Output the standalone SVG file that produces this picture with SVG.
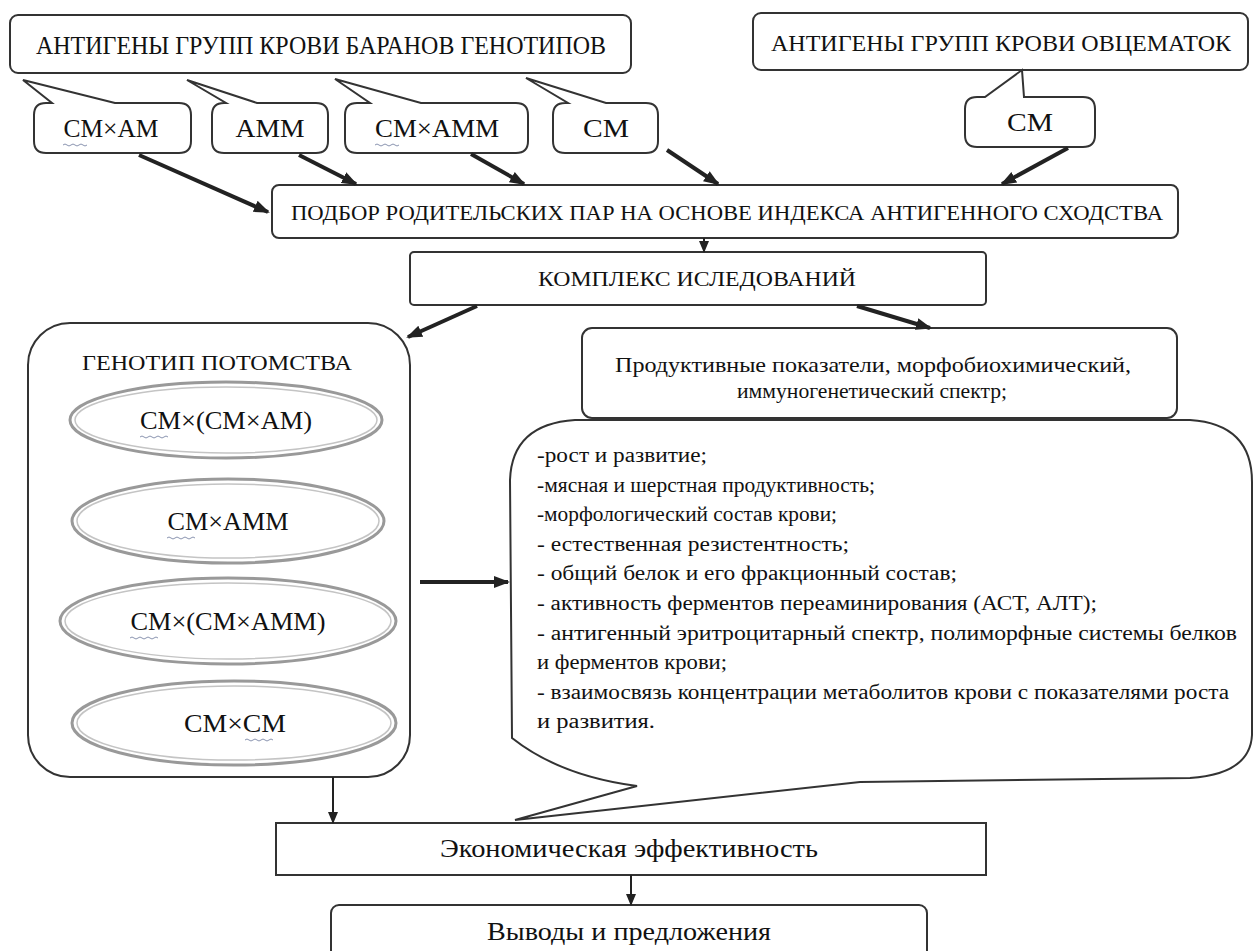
<svg xmlns="http://www.w3.org/2000/svg" width="1254" height="951" viewBox="0 0 1254 951">
<defs>
<style>
.box{fill:#fff;stroke:#333;stroke-width:2}
.ell{fill:#fff;stroke:#999;stroke-width:3}
.ell2{fill:none;stroke:#c4c4c4;stroke-width:1.5}
.wv{fill:none;stroke:#8a94b0;stroke-width:1}
.c{text-anchor:middle}
.thick{stroke:#222;stroke-width:4;fill:none}
.thin{stroke:#222;stroke-width:2;fill:none}
</style>
<marker id="ah" markerUnits="userSpaceOnUse" markerWidth="16" markerHeight="14" refX="14" refY="7" orient="auto">
<path d="M0,1 L16,7 L0,13 Z" fill="#222"/>
</marker>
<marker id="ahs" markerUnits="userSpaceOnUse" markerWidth="12" markerHeight="12" refX="11" refY="6" orient="auto">
<path d="M0,1 L12,6 L0,11 Z" fill="#222"/>
</marker>
</defs>

<g font-family="'Liberation Serif', 'Times New Roman', serif" fill="#111">
<g id="rams">
<rect class="box" x="10" y="15" width="621" height="58" rx="8"/>
<text class="c" x="321" y="54" font-size="26" textLength="570" lengthAdjust="spacingAndGlyphs">АНТИГЕНЫ ГРУПП КРОВИ БАРАНОВ ГЕНОТИПОВ</text>
</g>
<g id="ewes">
<rect class="box" x="753" y="13" width="495" height="57" rx="8"/>
<text class="c" x="1001" y="51" font-size="24" textLength="460" lengthAdjust="spacingAndGlyphs">АНТИГЕНЫ ГРУПП КРОВИ ОВЦЕМАТОК</text>
</g>

<g id="c1">
<path class="box" d="M46,103 L52,103 L23,80 L115,103 L179,103 Q191,103 191,115 L191,141 Q191,153 179,153 L46,153 Q34,153 34,141 L34,115 Q34,103 46,103 Z"/>
<text class="c" x="111" y="137" font-size="26" textLength="95" lengthAdjust="spacingAndGlyphs">СМ×АМ</text>
<path class="wv" d="M63,145 q2,-2 4,0 t4,0 t4,0 t4,0 t4,0 t4,0"/>
</g>
<g id="c2">
<path class="box" d="M224,103 L226,103 L187,80 L257,103 L316,103 Q328,103 328,115 L328,141 Q328,153 316,153 L224,153 Q212,153 212,141 L212,115 Q212,103 224,103 Z"/>
<text class="c" x="270" y="137" font-size="26" textLength="69" lengthAdjust="spacingAndGlyphs">АММ</text>
</g>
<g id="c3">
<path class="box" d="M357,103 L370,103 L335,79 L421,103 L516,103 Q528,103 528,115 L528,141 Q528,153 516,153 L357,153 Q345,153 345,141 L345,115 Q345,103 357,103 Z"/>
<text class="c" x="437" y="137" font-size="26" textLength="124" lengthAdjust="spacingAndGlyphs">СМ×АММ</text>
<path class="wv" d="M375,145 q2,-2 4,0 t4,0 t4,0 t4,0 t4,0 t4,0"/>
</g>
<g id="c4">
<path class="box" d="M565,103 L568,103 L526,78 L606,103 L646,103 Q658,103 658,115 L658,141 Q658,153 646,153 L565,153 Q553,153 553,141 L553,115 Q553,103 565,103 Z"/>
<text class="c" x="606" y="137" font-size="26" textLength="46" lengthAdjust="spacingAndGlyphs">СМ</text>
</g>
<g id="c5">
<path class="box" d="M977,97 L985,97 L1022,70 L1024,97 L1083,97 Q1095,97 1095,109 L1095,135 Q1095,147 1083,147 L977,147 Q965,147 965,135 L965,109 Q965,97 977,97 Z"/>
<text class="c" x="1030" y="131" font-size="26" textLength="46" lengthAdjust="spacingAndGlyphs">СМ</text>
</g>

<g id="selection">
<rect class="box" x="272" y="185" width="906" height="53" rx="7"/>
<text class="c" x="727" y="220" font-size="22" textLength="872" lengthAdjust="spacingAndGlyphs">ПОДБОР РОДИТЕЛЬСКИХ ПАР НА ОСНОВЕ ИНДЕКСА АНТИГЕННОГО СХОДСТВА</text>
</g>

<g id="complex">
<rect class="box" x="410" y="252" width="576" height="53" rx="4"/>
<text class="c" x="697" y="286" font-size="22" textLength="318" lengthAdjust="spacingAndGlyphs">КОМПЛЕКС ИСЛЕДОВАНИЙ</text>
</g>

<g id="callout-list">
<path class="box" d="M575,420 L1190,420 Q1252,424 1252,482 L1252,735 Q1250,774 1190,778 L860,782 L515,820 L637,786 Q560,776 512,738 L510,480 Q512,424 575,420 Z"/>
<g font-size="20">
<text x="537" y="462" textLength="170" lengthAdjust="spacingAndGlyphs">-рост и развитие;</text>
<text x="537" y="492" textLength="338" lengthAdjust="spacingAndGlyphs">-мясная и шерстная продуктивность;</text>
<text x="537" y="521" textLength="300" lengthAdjust="spacingAndGlyphs">-морфологический состав крови;</text>
<text x="537" y="551" textLength="312" lengthAdjust="spacingAndGlyphs">- естественная резистентность;</text>
<text x="537" y="580" textLength="420" lengthAdjust="spacingAndGlyphs">- общий белок и его фракционный состав;</text>
<text x="537" y="610" textLength="560" lengthAdjust="spacingAndGlyphs">- активность ферментов переаминирования (АСТ, АЛТ);</text>
<text x="537" y="640" textLength="700" lengthAdjust="spacingAndGlyphs">- антигенный эритроцитарный спектр, полиморфные системы белков</text>
<text x="537" y="669" textLength="190" lengthAdjust="spacingAndGlyphs">и ферментов крови;</text>
<text x="537" y="699" textLength="692" lengthAdjust="spacingAndGlyphs">- взаимосвязь концентрации метаболитов крови с показателями роста</text>
<text x="537" y="728" textLength="118" lengthAdjust="spacingAndGlyphs">и развития.</text>
</g>
</g>

<g id="productive">
<rect class="box" x="582" y="328" width="595" height="90" rx="10"/>
<text class="c" x="873" y="372" font-size="21" textLength="516" lengthAdjust="spacingAndGlyphs">Продуктивные показатели, морфобиохимический,</text>
<text class="c" x="872" y="398" font-size="21" textLength="270" lengthAdjust="spacingAndGlyphs">иммуногенетический спектр;</text>
</g>

<g id="offspring">
<rect class="box" x="28" y="323" width="382" height="454" rx="42"/>
<text class="c" x="217" y="370" font-size="22" textLength="270" lengthAdjust="spacingAndGlyphs">ГЕНОТИП ПОТОМСТВА</text>
</g>
<g id="g1">
<ellipse class="ell" cx="226" cy="420" rx="156" ry="38"/>
<ellipse class="ell2" cx="226" cy="420" rx="151" ry="33"/>
<text class="c" x="226" y="429" font-size="25" textLength="172" lengthAdjust="spacingAndGlyphs">СМ×(СМ×АМ)</text>
<path class="wv" d="M140,437 q2,-2 4,0 t4,0 t4,0 t4,0 t4,0 t4,0 t4,0"/>
</g>
<g id="g2">
<ellipse class="ell" cx="228" cy="521" rx="156" ry="42"/>
<ellipse class="ell2" cx="228" cy="521" rx="151" ry="37"/>
<text class="c" x="228" y="530" font-size="25" textLength="121" lengthAdjust="spacingAndGlyphs">СМ×АММ</text>
<path class="wv" d="M167,538 q2,-2 4,0 t4,0 t4,0 t4,0 t4,0 t4,0 t4,0"/>
</g>
<g id="g3">
<ellipse class="ell" cx="228" cy="621" rx="168" ry="43"/>
<ellipse class="ell2" cx="228" cy="621" rx="163" ry="38"/>
<text class="c" x="228" y="630" font-size="25" textLength="195" lengthAdjust="spacingAndGlyphs">СМ×(СМ×АММ)</text>
<path class="wv" d="M130,638 q2,-2 4,0 t4,0 t4,0 t4,0 t4,0 t4,0 t4,0"/>
</g>
<g id="g4">
<ellipse class="ell" cx="234" cy="723" rx="162" ry="42"/>
<ellipse class="ell2" cx="234" cy="723" rx="157" ry="37"/>
<text class="c" x="235" y="732" font-size="25" textLength="102" lengthAdjust="spacingAndGlyphs">СМ×СМ</text>
<path class="wv" d="M245,740 q2,-2 4,0 t4,0 t4,0 t4,0 t4,0 t4,0 t4,0"/>
</g>

<g id="economic">
<rect class="box" x="276" y="823" width="710" height="52"/>
<text class="c" x="629" y="857" font-size="25" textLength="378" lengthAdjust="spacingAndGlyphs">Экономическая эффективность</text>
</g>
<g id="conclusions">
<rect class="box" x="331" y="905" width="596" height="60" rx="8"/>
<text class="c" x="629" y="940" font-size="25" textLength="284" lengthAdjust="spacingAndGlyphs">Выводы и предложения</text>
</g>
</g>

<g id="connectors">
<line class="thick" x1="139" y1="155" x2="268" y2="212" marker-end="url(#ah)"/>
<line class="thick" x1="299" y1="155" x2="356" y2="184" marker-end="url(#ah)"/>
<line class="thick" x1="471" y1="154" x2="524" y2="184" marker-end="url(#ah)"/>
<line class="thick" x1="667" y1="150" x2="718" y2="184" marker-end="url(#ah)"/>
<line class="thick" x1="1068" y1="148" x2="1002" y2="184" marker-end="url(#ah)"/>
<line class="thin" x1="704" y1="238" x2="704" y2="252" marker-end="url(#ahs)"/>
<line class="thick" x1="477" y1="306" x2="408" y2="337" marker-end="url(#ah)"/>
<line class="thick" x1="857" y1="306" x2="930" y2="328" marker-end="url(#ah)"/>
<line class="thick" x1="420" y1="582" x2="508" y2="582" marker-end="url(#ah)"/>
<line class="thin" x1="333" y1="777" x2="333" y2="823" marker-end="url(#ahs)"/>
<line class="thin" x1="631" y1="875" x2="631" y2="905" marker-end="url(#ahs)"/>
</g>
</svg>
